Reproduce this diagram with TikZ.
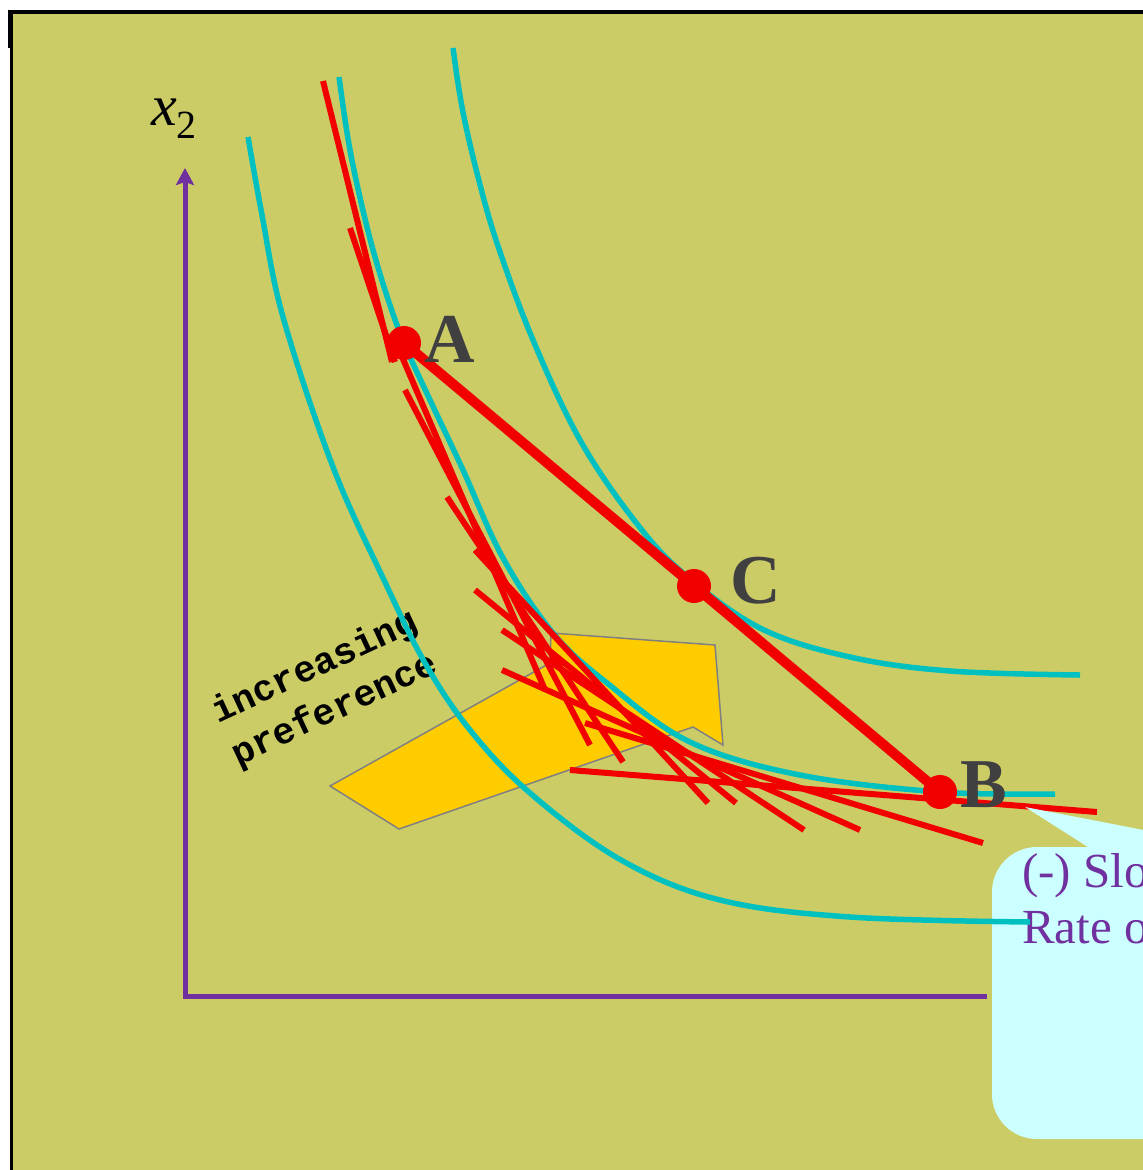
\documentclass[tikz,border=0pt]{standalone}
\usepackage{fontspec}
\setmainfont{Liberation Serif}
\newfontfamily\monob{Liberation Mono}
\usetikzlibrary{arrows.meta}
\definecolor{olivebg}{RGB}{204,204,102}
\definecolor{icyan}{RGB}{0,192,192}
\definecolor{ired}{RGB}{242,0,0}
\definecolor{axpurple}{RGB}{112,48,160}
\definecolor{lblgray}{RGB}{64,64,64}
\definecolor{arrowyellow}{RGB}{255,204,0}
\definecolor{calloutcyan}{RGB}{204,255,255}
\begin{document}
\begin{tikzpicture}[x=1pt,y=-1pt,
  cyancurve/.style={draw=icyan, line width=5.5pt},
  redline/.style={draw=ired, line width=6pt},
  abline/.style={draw=ired, line width=10pt},
  dotnode/.style={circle, fill=ired, minimum size=34pt, inner sep=0pt},
  lbl/.style={text=lblgray, font=\fontsize{70}{70}\selectfont\bfseries, inner sep=0pt},
  preftext/.style={text=black, font=\monob\bfseries\fontsize{37}{47}\selectfont, inner sep=0pt, rotate=25, align=left},
  calltext/.style={text=axpurple, font=\fontsize{49}{49}\selectfont, inner sep=0pt},
  axisline/.style={draw=axpurple, line width=5pt},
  yarrow/.style={fill=arrowyellow, draw=gray, line width=1.5pt, line join=miter}
]
\useasboundingbox (0,0) rectangle (1143,1170);
\clip (0,0) rectangle (1143,1170);
% background and frame
\fill[white] (0,0) rectangle (1143,1170);
\fill[olivebg] (12,13) rectangle (1143,1170);
\draw[black, line width=4pt] (8,12) -- (1143,12);
\draw[black, line width=3.5pt] (11.5,10) -- (11.5,1170);
\fill[black] (8,10) rectangle (12,48);

% axes
\coordinate (xend) at (987,996);
\coordinate (orig) at (185,996);
\coordinate (ytop) at (185,168);
\draw[axisline] (xend) -- (183,996);
\draw[axisline, -{Stealth[length=17pt, width=18pt, inset=3pt]}] (orig) -- (ytop);
\node[inner sep=0pt, anchor=base west] (x2lbl) at (151,125)
  {{\fontsize{58}{58}\selectfont\itshape x}{\fontsize{40}{40}\selectfont\raisebox{-13pt}{2}}};

% yellow arrow
\draw[yarrow] (330,786) -- (550,663) -- (551,633) -- (715,645) -- (723,745) -- (693,727) -- (399,829) -- cycle;

% increasing preference
\node[preftext, anchor=north west] (incpref) at (207,699) {increasing\\preference};

% upper and middle indifference curves
\draw[cyancurve] plot[smooth, tension=0.6] coordinates {(453,48) (462,107) (477,173) (497,243) (533,340) (580,440) (634,520) (683,573) (760,628) (850,657) (950,671) (1080,675)};
\draw[cyancurve] plot[smooth, tension=0.6] coordinates {(339,77) (350,150) (367,227) (385,290) (404,343) (430,400) (463,470) (503,558) (553,633) (607,683) (690,742) (800,775) (940,792) (1055,794)};

% tangent lines
\draw[redline] (323,81) -- (392,362);
\draw[redline] (350,228) -- (395,362);
\draw[redline] (400,352) -- (545,690);
\draw[redline] (405,390) -- (590,745);
\draw[redline] (447,497) -- (623,762);
\draw[redline] (475,550) -- (708,803);
\draw[redline] (475,590) -- (736,803);
\draw[redline] (502,630) -- (804,830);
\draw[redline] (502,670) -- (860,830);
\draw[redline] (585,723) -- (983,843);
\draw[redline] (570,770) -- (1097,812);

% A-B line and points
\coordinate (A) at (404,343);
\coordinate (B) at (940,792);
\coordinate (C) at (694,586);
\draw[abline] (A) -- (B);
\node[dotnode] (pA) at (A) {};
\node[dotnode] (pB) at (B) {};
\node[dotnode] (pC) at (C) {};
\node[lbl, anchor=base west] (lA) at (424,362) {A};
\node[lbl, anchor=base west] (lC) at (730,603) {C};
\node[lbl, anchor=base west] (lB) at (960,807) {B};

% callout
\fill[calloutcyan, rounded corners=45pt] (992,847) rectangle (1260,1139);
\fill[calloutcyan] (1025,807) -- (1200,841) -- (1200,900) -- (1088,900) -- (1088,847) -- cycle;
\node[calltext, anchor=base west] (call1) at (1022,887) {(-) Slo};
\node[calltext, anchor=base west] (call2) at (1022,943) {Rate o};

% lower indifference curve
\draw[cyancurve] plot[smooth, tension=0.6] coordinates {(248,137) (262,215) (283,317) (333,467) (384,580) (425,663) (470,730) (530,793) (621,860) (720,900) (850,917) (1030,922)};
\end{tikzpicture}
\end{document}
